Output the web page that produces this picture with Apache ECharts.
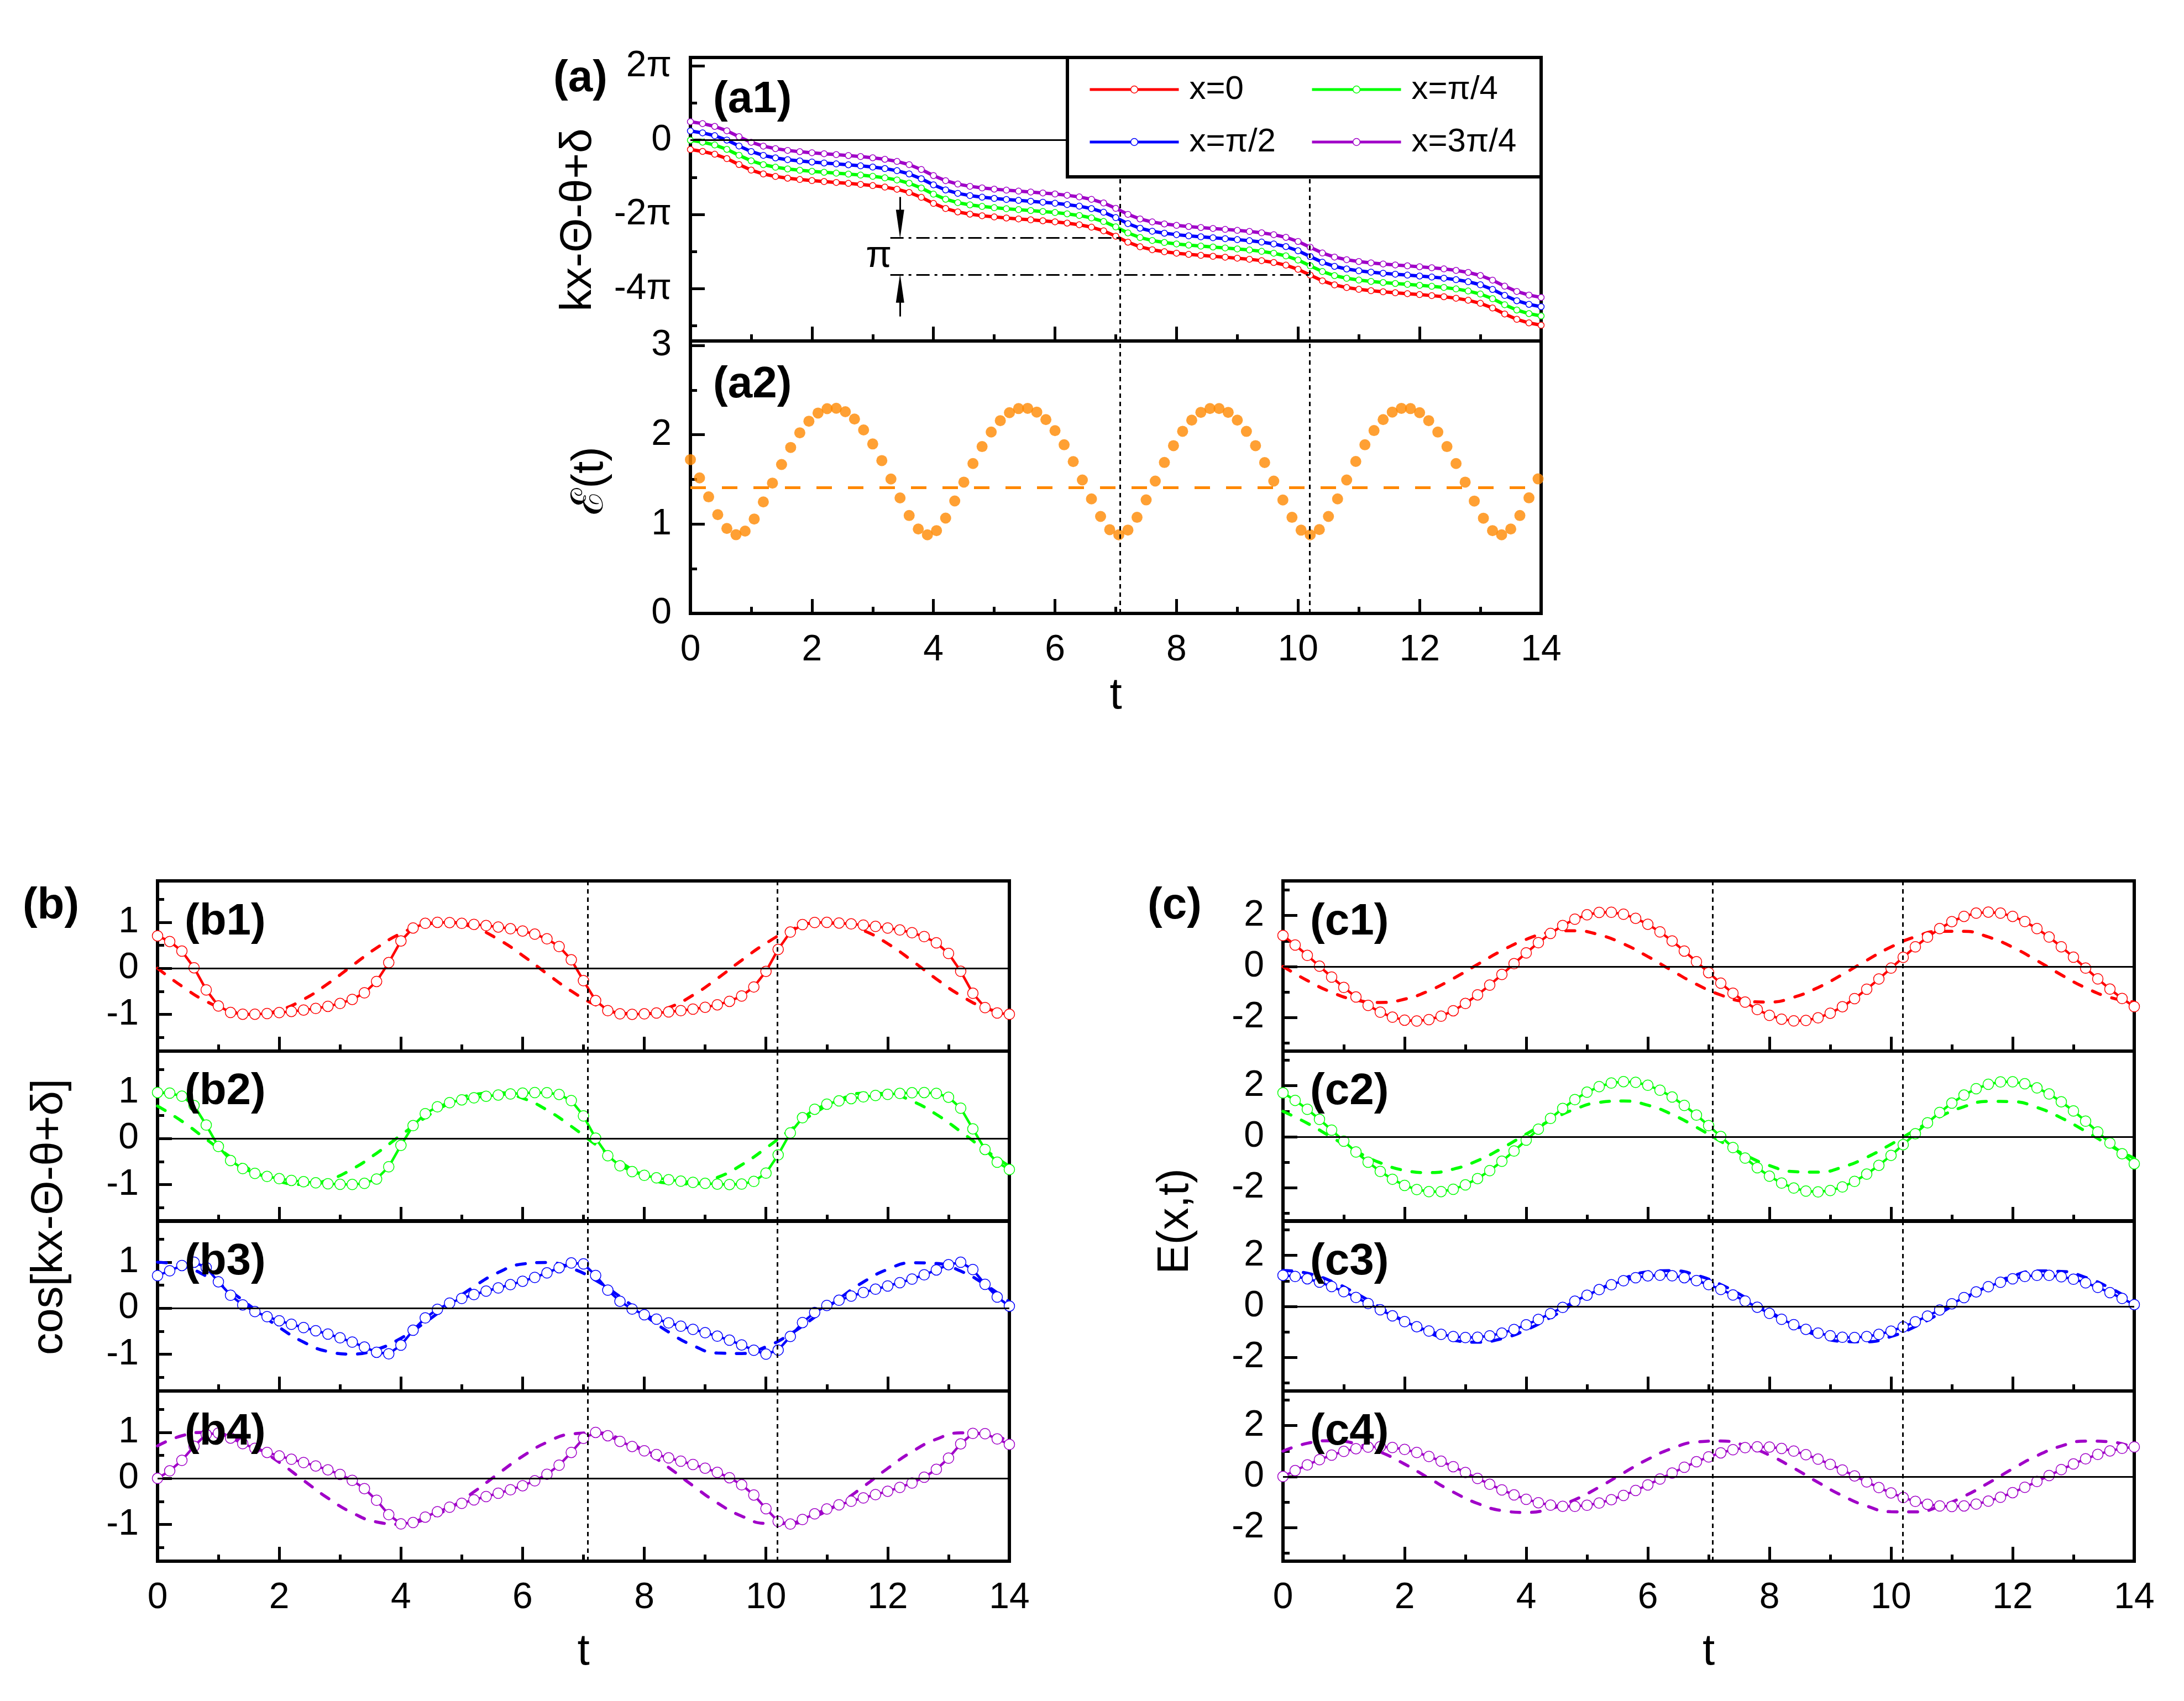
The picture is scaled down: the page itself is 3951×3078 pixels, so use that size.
<!DOCTYPE html>
<html>
<head>
<meta charset="utf-8">
<title>phase, envelope and field</title>
<script src="https://cdn.jsdelivr.net/npm/echarts@6.0.0/dist/echarts.min.js"></script>
<style>
html, body { margin: 0; padding: 0; background: #fff; }
#chart { width: 3951px; height: 3078px; }
</style>
</head>
<body>
<div id="chart"></div>
<script>
var FONT = 'Liberation Sans, Arial, Helvetica, sans-serif';
var colors = ['#ff0000', '#00ff00', '#0000ff', '#a000c8'];
var orange = '#ff8800';
var names = ['x=0', 'x=π/4', 'x=π/2', 'x=3π/4'];

// sample times
var tPts = [0, 0.2, 0.4, 0.6, 0.8, 1, 1.2, 1.4, 1.6, 1.8, 2, 2.2, 2.4, 2.6, 2.8, 3, 3.2, 3.4, 3.6, 3.8,
  4, 4.2, 4.4, 4.6, 4.8, 5, 5.2, 5.4, 5.6, 5.8, 6, 6.2, 6.4, 6.6, 6.8, 7, 7.2, 7.4, 7.6, 7.8,
  8, 8.2, 8.4, 8.6, 8.8, 9, 9.2, 9.4, 9.6, 9.8, 10, 10.2, 10.4, 10.6, 10.8, 11, 11.2, 11.4, 11.6, 11.8,
  12, 12.2, 12.4, 12.6, 12.8, 13, 13.2, 13.4, 13.6, 13.8, 14];
var tDash = [0, 0.4, 0.8, 1.2, 1.6, 2, 2.4, 2.8, 3.2, 3.6, 4, 4.4, 4.8, 5.2, 5.6, 6, 6.4, 6.8, 7.2, 7.6,
  8, 8.4, 8.8, 9.2, 9.6, 10, 10.4, 10.8, 11.2, 11.6, 12, 12.4, 12.8, 13.2, 13.6, 14];
var tEps = [0, 0.15, 0.3, 0.45, 0.6, 0.75, 0.9, 1.05, 1.2, 1.35, 1.5, 1.65, 1.8, 1.95, 2.1, 2.25, 2.4, 2.55, 2.7, 2.85,
  3, 3.15, 3.3, 3.45, 3.6, 3.75, 3.9, 4.05, 4.2, 4.35, 4.5, 4.65, 4.8, 4.95, 5.1, 5.25, 5.4, 5.55, 5.7, 5.85,
  6, 6.15, 6.3, 6.45, 6.6, 6.75, 6.9, 7.05, 7.2, 7.35, 7.5, 7.65, 7.8, 7.95, 8.1, 8.25, 8.4, 8.55, 8.7, 8.85,
  9, 9.15, 9.3, 9.45, 9.6, 9.75, 9.9, 10.05, 10.2, 10.35, 10.5, 10.65, 10.8, 10.95, 11.1, 11.25, 11.4, 11.55, 11.7, 11.85,
  12, 12.15, 12.3, 12.45, 12.6, 12.75, 12.9, 13.05, 13.2, 13.35, 13.5, 13.65, 13.8, 13.95];

// dotted guides at the minima of the envelope
var tMin = [7.07, 10.19];

// (a1) kx-Θ-θ+δ, in units of π
var phase0 = [-0.250, -0.302, -0.378, -0.496, -0.655, -0.805, -0.909, -0.977, -1.024, -1.059,
  -1.088, -1.114, -1.138, -1.163, -1.190, -1.223, -1.264, -1.321, -1.408, -1.539,
  -1.703, -1.840, -1.932, -1.992, -2.035, -2.068, -2.096, -2.121, -2.145, -2.171,
  -2.199, -2.234, -2.278, -2.343, -2.441, -2.586, -2.748, -2.872, -2.952, -3.006,
  -3.045, -3.077, -3.103, -3.128, -3.153, -3.179, -3.208, -3.245, -3.295, -3.367,
  -3.479, -3.635, -3.789, -3.899, -3.970, -4.019, -4.055, -4.085, -4.111, -4.135,
  -4.160, -4.187, -4.218, -4.258, -4.313, -4.395, -4.521, -4.683, -4.826, -4.923, -4.986];
var phase1 = [0.000, -0.052, -0.128, -0.246, -0.405, -0.555, -0.659, -0.727, -0.774, -0.809,
  -0.838, -0.864, -0.888, -0.913, -0.940, -0.973, -1.014, -1.071, -1.158, -1.289,
  -1.453, -1.590, -1.682, -1.742, -1.785, -1.818, -1.846, -1.871, -1.895, -1.921,
  -1.949, -1.984, -2.028, -2.093, -2.191, -2.336, -2.498, -2.622, -2.702, -2.756,
  -2.795, -2.827, -2.853, -2.878, -2.903, -2.929, -2.958, -2.995, -3.045, -3.117,
  -3.229, -3.385, -3.539, -3.649, -3.720, -3.769, -3.805, -3.835, -3.861, -3.885,
  -3.910, -3.937, -3.968, -4.008, -4.063, -4.145, -4.271, -4.433, -4.576, -4.673, -4.736];
var phase2 = [0.250, 0.198, 0.122, 0.004, -0.155, -0.305, -0.409, -0.477, -0.524, -0.559,
  -0.588, -0.614, -0.638, -0.663, -0.690, -0.723, -0.764, -0.821, -0.908, -1.039,
  -1.203, -1.340, -1.432, -1.492, -1.535, -1.568, -1.596, -1.621, -1.645, -1.671,
  -1.699, -1.734, -1.778, -1.843, -1.941, -2.086, -2.248, -2.372, -2.452, -2.506,
  -2.545, -2.577, -2.603, -2.628, -2.653, -2.679, -2.708, -2.745, -2.795, -2.867,
  -2.979, -3.135, -3.289, -3.399, -3.470, -3.519, -3.555, -3.585, -3.611, -3.635,
  -3.660, -3.687, -3.718, -3.758, -3.813, -3.895, -4.021, -4.183, -4.326, -4.423, -4.486];
var phase3 = [0.500, 0.448, 0.372, 0.254, 0.095, -0.055, -0.159, -0.227, -0.274, -0.309,
  -0.338, -0.364, -0.388, -0.413, -0.440, -0.473, -0.514, -0.571, -0.658, -0.789,
  -0.953, -1.090, -1.182, -1.242, -1.285, -1.318, -1.346, -1.371, -1.395, -1.421,
  -1.449, -1.484, -1.528, -1.593, -1.691, -1.836, -1.998, -2.122, -2.202, -2.256,
  -2.295, -2.327, -2.353, -2.378, -2.403, -2.429, -2.458, -2.495, -2.545, -2.617,
  -2.729, -2.885, -3.039, -3.149, -3.220, -3.269, -3.305, -3.335, -3.361, -3.385,
  -3.410, -3.437, -3.468, -3.508, -3.563, -3.645, -3.771, -3.933, -4.076, -4.173, -4.236];

// (a2) envelope
var eps = [1.722, 1.517, 1.305, 1.106, 0.951, 0.881, 0.922, 1.057, 1.248, 1.459,
  1.667, 1.858, 2.022, 2.152, 2.243, 2.292, 2.297, 2.258, 2.176, 2.054,
  1.897, 1.711, 1.505, 1.293, 1.096, 0.945, 0.880, 0.927, 1.067, 1.259,
  1.470, 1.678, 1.868, 2.031, 2.158, 2.247, 2.293, 2.296, 2.254, 2.170,
  2.046, 1.888, 1.700, 1.494, 1.282, 1.086, 0.938, 0.880, 0.933, 1.076,
  1.271, 1.482, 1.690, 1.878, 2.039, 2.164, 2.251, 2.294, 2.294, 2.251,
  2.164, 2.038, 1.878, 1.689, 1.482, 1.270, 1.076, 0.932, 0.880, 0.939,
  1.086, 1.282, 1.494, 1.701, 1.888, 2.047, 2.170, 2.254, 2.296, 2.293,
  2.247, 2.158, 2.030, 1.868, 1.678, 1.470, 1.258, 1.066, 0.927, 0.880,
  0.945, 1.096, 1.294, 1.506];
var epsMean = 1.41;

// (b) cos[kx-Θ-θ+δ], circles
var cos0 = [0.706, 0.583, 0.373, 0.012, -0.469, -0.819, -0.960, -0.997, -0.997, -0.983,
  -0.962, -0.937, -0.907, -0.872, -0.826, -0.765, -0.676, -0.533, -0.285, 0.124,
  0.595, 0.877, 0.977, 1.000, 0.994, 0.977, 0.955, 0.929, 0.898, 0.860,
  0.811, 0.743, 0.641, 0.474, 0.184, -0.268, -0.702, -0.920, -0.989, -1.000,
  -0.990, -0.971, -0.948, -0.920, -0.887, -0.847, -0.793, -0.718, -0.601, -0.405,
  -0.066, 0.411, 0.788, 0.950, 0.996, 0.998, 0.985, 0.965, 0.940, 0.911,
  0.876, 0.833, 0.774, 0.689, 0.555, 0.324, -0.065, -0.543, -0.854, -0.971, -0.999];
var cos1 = [1.000, 0.987, 0.920, 0.716, 0.293, -0.173, -0.480, -0.654, -0.758, -0.825,
  -0.873, -0.910, -0.939, -0.963, -0.983, -0.996, -0.999, -0.975, -0.880, -0.614,
  -0.148, 0.280, 0.541, 0.690, 0.780, 0.841, 0.885, 0.919, 0.946, 0.969,
  0.987, 0.999, 0.996, 0.958, 0.825, 0.492, 0.007, -0.373, -0.593, -0.720,
  -0.800, -0.855, -0.896, -0.927, -0.953, -0.975, -0.991, -1.000, -0.990, -0.933,
  -0.752, -0.355, 0.122, 0.451, 0.637, 0.747, 0.818, 0.868, 0.906, 0.936,
  0.960, 0.980, 0.995, 1.000, 0.981, 0.898, 0.660, 0.210, -0.237, -0.516, -0.675];
var cos2 = [0.708, 0.813, 0.928, 1.000, 0.883, 0.574, 0.281, 0.072, -0.074, -0.184,
  -0.273, -0.350, -0.421, -0.490, -0.563, -0.644, -0.737, -0.846, -0.958, -0.992,
  -0.804, -0.480, -0.212, -0.024, 0.110, 0.212, 0.296, 0.371, 0.441, 0.511,
  0.586, 0.669, 0.767, 0.880, 0.983, 0.963, 0.712, 0.393, 0.150, -0.019,
  -0.142, -0.238, -0.319, -0.391, -0.461, -0.532, -0.609, -0.696, -0.799, -0.914,
  -0.998, -0.912, -0.615, -0.312, -0.094, 0.059, 0.172, 0.263, 0.341, 0.412,
  0.482, 0.554, 0.633, 0.725, 0.832, 0.946, 0.998, 0.840, 0.519, 0.241, 0.045];
var cos3 = [0.001, 0.163, 0.393, 0.699, 0.956, 0.985, 0.877, 0.756, 0.653, 0.565,
  0.487, 0.415, 0.344, 0.270, 0.186, 0.086, -0.043, -0.222, -0.476, -0.789,
  -0.989, -0.960, -0.841, -0.724, -0.626, -0.541, -0.466, -0.395, -0.323, -0.247,
  -0.159, -0.052, 0.089, 0.287, 0.565, 0.871, 1.000, 0.928, 0.805, 0.694,
  0.600, 0.519, 0.445, 0.374, 0.302, 0.222, 0.130, 0.015, -0.140, -0.360,
  -0.659, -0.935, -0.993, -0.893, -0.771, -0.665, -0.575, -0.497, -0.424, -0.353,
  -0.279, -0.197, -0.100, 0.025, 0.196, 0.440, 0.751, 0.978, 0.972, 0.857, 0.738];

// (b) dashed reference curves
var bDash0 = [0, -0.389, -0.717, -0.932, -1.000, -0.909, -0.676, -0.335, 0.058, 0.443,
  0.757, 0.952, 0.996, 0.884, 0.631, 0.279, -0.117, -0.494, -0.794, -0.968,
  -0.989, -0.855, -0.585, -0.223, 0.174, 0.544, 0.828, 0.981, 0.979, 0.823,
  0.537, 0.166, -0.232, -0.592, -0.859, -0.991];
var bDash1 = [0.707, 0.376, -0.015, -0.403, -0.727, -0.937, -0.999, -0.903, -0.665, -0.321,
  0.073, 0.456, 0.766, 0.956, 0.995, 0.877, 0.620, 0.265, -0.131, -0.507,
  -0.802, -0.971, -0.987, -0.847, -0.573, -0.209, 0.189, 0.556, 0.836, 0.984,
  0.976, 0.814, 0.524, 0.151, -0.246, -0.604];
var bDash2 = [1, 0.921, 0.697, 0.362, -0.029, -0.416, -0.737, -0.942, -0.998, -0.897,
  -0.654, -0.307, 0.088, 0.469, 0.776, 0.960, 0.993, 0.869, 0.608, 0.251,
  -0.146, -0.519, -0.811, -0.975, -0.985, -0.839, -0.561, -0.194, 0.203, 0.568,
  0.844, 0.986, 0.973, 0.806, 0.512, 0.137];
var bDash3 = [0.707, 0.927, 1.000, 0.915, 0.686, 0.349, -0.044, -0.429, -0.747, -0.947,
  -0.997, -0.890, -0.643, -0.293, 0.102, 0.481, 0.785, 0.964, 0.991, 0.862,
  0.597, 0.237, -0.160, -0.532, -0.820, -0.978, -0.982, -0.831, -0.549, -0.180,
  0.217, 0.580, 0.852, 0.989, 0.969, 0.797];

// (c) E(x,t), circles
var field0 = [1.216, 0.843, 0.436, 0.012, -0.413, -0.822, -1.197, -1.525, -1.792, -1.988,
  -2.104, -2.137, -2.084, -1.948, -1.735, -1.452, -1.111, -0.727, -0.313, 0.113,
  0.535, 0.936, 1.299, 1.610, 1.857, 2.030, 2.123, 2.130, 2.053, 1.893,
  1.659, 1.358, 1.003, 0.608, 0.189, -0.238, -0.655, -1.046, -1.396, -1.689,
  -1.916, -2.066, -2.133, -2.116, -2.014, -1.832, -1.577, -1.259, -0.891, -0.487,
  -0.064, 0.361, 0.773, 1.153, 1.488, 1.762, 1.968, 2.094, 2.137, 2.095,
  1.969, 1.765, 1.490, 1.156, 0.776, 0.365, -0.060, -0.484, -0.888, -1.255, -1.573];
var field1 = [1.722, 1.427, 1.076, 0.681, 0.259, -0.174, -0.599, -1.000, -1.362, -1.669,
  -1.910, -2.074, -2.156, -2.152, -2.062, -1.890, -1.643, -1.330, -0.964, -0.560,
  -0.133, 0.299, 0.719, 1.111, 1.458, 1.747, 1.966, 2.107, 2.164, 2.135,
  2.020, 1.825, 1.558, 1.228, 0.849, 0.437, 0.007, -0.424, -0.837, -1.217,
  -1.549, -1.818, -2.015, -2.132, -2.164, -2.110, -1.971, -1.754, -1.467, -1.122,
  -0.731, -0.312, 0.120, 0.547, 0.952, 1.319, 1.634, 1.884, 2.058, 2.151,
  2.157, 2.078, 1.916, 1.677, 1.372, 1.012, 0.612, 0.187, -0.246, -0.667, -1.062];
var field2 = [1.220, 1.176, 1.085, 0.951, 0.779, 0.576, 0.351, 0.111, -0.134, -0.373,
  -0.597, -0.797, -0.966, -1.096, -1.182, -1.221, -1.212, -1.154, -1.050, -0.905,
  -0.723, -0.512, -0.281, -0.039, 0.205, 0.440, 0.658, 0.850, 1.008, 1.126,
  1.199, 1.224, 1.200, 1.128, 1.012, 0.855, 0.664, 0.447, 0.211, -0.032,
  -0.275, -0.506, -0.717, -0.900, -1.047, -1.152, -1.211, -1.222, -1.184, -1.099,
  -0.970, -0.803, -0.603, -0.379, -0.141, 0.103, 0.344, 0.570, 0.774, 0.947,
  1.082, 1.174, 1.219, 1.216, 1.164, 1.066, 0.925, 0.747, 0.540, 0.311, 0.071];
var field3 = [0.002, 0.235, 0.459, 0.665, 0.843, 0.989, 1.095, 1.157, 1.173, 1.142,
  1.066, 0.947, 0.791, 0.603, 0.391, 0.163, -0.071, -0.302, -0.521, -0.720,
  -0.890, -1.024, -1.118, -1.166, -1.169, -1.125, -1.036, -0.905, -0.739, -0.543,
  -0.326, -0.095, 0.139, 0.368, 0.582, 0.773, 0.933, 1.056, 1.136, 1.172,
  1.161, 1.103, 1.002, 0.860, 0.685, 0.482, 0.259, 0.027, -0.207, -0.432,
  -0.640, -0.823, -0.973, -1.084, -1.152, -1.173, -1.149, -1.078, -0.964, -0.812,
  -0.628, -0.418, -0.192, 0.042, 0.274, 0.495, 0.697, 0.870, 1.009, 1.108, 1.163];

// (c) dashed reference curves
var cDash0 = [0, -0.549, -1.011, -1.314, -1.410, -1.282, -0.953, -0.472, 0.082, 0.625,
  1.067, 1.342, 1.404, 1.246, 0.890, 0.393, -0.165, -0.697, -1.119, -1.365,
  -1.394, -1.205, -0.825, -0.314, 0.245, 0.767, 1.167, 1.383, 1.381, 1.160,
  0.757, 0.234, -0.327, -0.835, -1.211, -1.397];
var cDash1 = [0.997, 0.530, -0.021, -0.568, -1.025, -1.321, -1.409, -1.273, -0.938, -0.453,
  0.103, 0.643, 1.080, 1.348, 1.403, 1.237, 0.874, 0.374, -0.185, -0.715,
  -1.131, -1.369, -1.392, -1.194, -0.808, -0.295, 0.266, 0.784, 1.179, 1.387,
  1.376, 1.148, 0.739, 0.213, -0.347, -0.852];
var cDash2 = [1.410, 1.299, 0.983, 0.510, -0.041, -0.587, -1.039, -1.328, -1.407, -1.265,
  -0.922, -0.433, 0.124, 0.661, 1.094, 1.354, 1.400, 1.225, 0.857, 0.354,
  -0.206, -0.732, -1.144, -1.375, -1.389, -1.183, -0.791, -0.274, 0.286, 0.801,
  1.190, 1.390, 1.372, 1.136, 0.722, 0.193];
var cDash3 = [0.997, 1.307, 1.410, 1.290, 0.967, 0.492, -0.062, -0.605, -1.053, -1.335,
  -1.406, -1.255, -0.907, -0.413, 0.144, 0.678, 1.107, 1.359, 1.397, 1.215,
  0.842, 0.334, -0.226, -0.750, -1.156, -1.379, -1.385, -1.172, -0.774, -0.254,
  0.306, 0.818, 1.201, 1.394, 1.366, 1.124];

// axis ticks
var ticksA1 = [-4, -2, 0, 2], minorA1 = [-5, -3, -1, 1];
var ticksA2 = [0, 1, 2, 3], minorA2 = [0.5, 1.5, 2.5];
var ticksB = [-1, 0, 1], minorB = [-1.5, -0.5, 0.5, 1.5];
var ticksC = [-2, 0, 2], minorC = [-3, -1, 1, 3];

// the π bracket in (a1), units of π
var bracketT = 3.45, bracketStart = 3.29;
var bracketY = [-2.63, -3.62];
var bracketEnd = [7.07, 10.19];
var arrowTail = [-1.53, -4.75];
var arrowHalf = 0.37;

var phases = [phase0, phase1, phase2, phase3];
var cosData = [cos0, cos1, cos2, cos3];
var bDash = [bDash0, bDash1, bDash2, bDash3];
var fieldData = [field0, field1, field2, field3];
var cDash = [cDash0, cDash1, cDash2, cDash3];

function zip(xs, ys) {
  return xs.map(function (x, i) { return [x, ys[i]]; });
}

var black = '#000';
var grids = [], xAxes = [], yAxes = [], series = [];

function addPanel(box, yMin, yMax, major, minor, fmt, showX, nameGap) {
  var g = grids.length;
  grids.push({
    left: box[0], top: box[1], width: box[2], height: box[3],
    show: true, borderColor: black, borderWidth: 6, backgroundColor: 'transparent'
  });
  xAxes.push({
    gridIndex: g, type: 'value', min: 0, max: 14, interval: 2, position: 'bottom',
    axisLine: { show: false, onZero: false },
    axisTick: { show: true, inside: true, length: 26, lineStyle: { color: black, width: 5 } },
    minorTick: { show: true, splitNumber: 2, length: 12, lineStyle: { color: black, width: 5 } },
    splitLine: { show: false }, minorSplitLine: { show: false },
    axisLabel: { show: showX, fontSize: 66, fontFamily: FONT, color: black, margin: 34 },
    name: showX ? 't' : '', nameLocation: 'middle', nameGap: nameGap,
    nameTextStyle: { fontSize: 80, fontFamily: FONT, color: black }
  });
  yAxes.push({
    gridIndex: g, type: 'value', min: yMin, max: yMax, position: 'left', offset: 0,
    axisLine: { show: false, onZero: false },
    axisTick: { show: true, inside: true, length: 26, customValues: major, lineStyle: { color: black, width: 5 } },
    axisLabel: { customValues: major, formatter: fmt, fontSize: 66, fontFamily: FONT, color: black, margin: 34 },
    splitLine: { show: false }
  });
  yAxes.push({
    gridIndex: g, type: 'value', min: yMin, max: yMax, position: 'left', offset: 0,
    axisLine: { show: false, onZero: false },
    axisTick: { show: true, inside: true, length: 12, customValues: minor, lineStyle: { color: black, width: 5 } },
    axisLabel: { show: false },
    splitLine: { show: false }
  });
  return g;
}

var dotted = { type: [8, 7], width: 3, color: black };
var zeroLine = { type: 'solid', width: 3, color: black };
var dashDot = { type: [24, 9, 5, 9], width: 3, color: black };

function guides(withZero) {
  var d = tMin.map(function (t) { return { xAxis: t, lineStyle: dotted }; });
  if (withZero) d.push({ yAxis: 0, lineStyle: zeroLine });
  return d;
}

function markLines(data) {
  return {
    silent: true, symbol: 'none', animation: false,
    label: { show: false }, emphasis: { disabled: true }, data: data
  };
}

// panel (a1)
var piFmt = function (v) { return v === 0 ? '0' : v + 'π'; };
var gA1 = addPanel([1249, 104, 1539, 513], -5.41, 2.23, ticksA1, minorA1, piFmt, false, 0);
var a1Marks = guides(true);
bracketY.forEach(function (y, i) {
  a1Marks.push([{ coord: [bracketStart, y], lineStyle: dashDot }, { coord: [bracketEnd[i], y], lineStyle: dashDot }]);
});
// arrows: the triangle is centred on the end point, so move it back by half its length
a1Marks.push([
  { coord: [bracketT, arrowTail[0]], lineStyle: { type: 'solid', width: 3, color: black } },
  { coord: [bracketT, bracketY[0] + arrowHalf], symbol: 'triangle', symbolSize: [15, 52] }
]);
a1Marks.push([
  { coord: [bracketT, arrowTail[1]], lineStyle: { type: 'solid', width: 3, color: black } },
  { coord: [bracketT, bracketY[1] - arrowHalf], symbol: 'triangle', symbolSize: [15, 52] }
]);

phases.forEach(function (p, i) {
  var s = {
    name: names[i], type: 'line', xAxisIndex: gA1, yAxisIndex: gA1 * 2,
    data: zip(tPts, p), symbol: 'circle', symbolSize: 11, showAllSymbol: true,
    itemStyle: { color: '#fff', borderColor: colors[i], borderWidth: 1.5 },
    lineStyle: { color: colors[i], width: 6 }, z: 3
  };
  if (i === 0) {
    s.markLine = markLines(a1Marks);
    s.markLine.itemStyle = { color: black };
    s.markPoint = {
      silent: true, animation: false, symbol: 'circle', symbolSize: 1,
      itemStyle: { color: 'rgba(0,0,0,0)' },
      label: { show: true, position: 'inside', formatter: 'π', fontSize: 68, fontFamily: FONT, color: black },
      data: [{ coord: [3.1, -3.13] }]
    };
  }
  series.push(s);
});

// panel (a2)
var gA2 = addPanel([1249, 617, 1539, 493], 0, 3.05, ticksA2, minorA2, null, true, 110);
var a2Marks = guides(false);
a2Marks.push({ yAxis: epsMean, lineStyle: { type: [28, 29], width: 5, color: orange } });
series.push({
  name: 'eps', type: 'scatter', xAxisIndex: gA2, yAxisIndex: gA2 * 2,
  data: zip(tEps, eps), symbol: 'circle', symbolSize: 20,
  itemStyle: { color: orange }, markLine: markLines(a2Marks), z: 3
});

// panels (b1)-(b4) and (c1)-(c4)
var rowTop = [1594, 1902, 2209, 2517];
function addColumn(left, width, yMin, yMax, major, minor, circ, dash, tag) {
  rowTop.forEach(function (top, i) {
    var last = i === rowTop.length - 1;
    var g = addPanel([left, top, width, 308], yMin, yMax, major, minor, null, last, 125);
    series.push({
      name: tag + i + '-dash', type: 'line', xAxisIndex: g, yAxisIndex: g * 2,
      data: zip(tDash, dash[i]), smooth: true, symbol: 'none',
      lineStyle: { color: colors[i], width: 5.5, type: [16, 21], cap: 'round' }, z: 2
    });
    series.push({
      name: tag + i, type: 'line', xAxisIndex: g, yAxisIndex: g * 2,
      data: zip(tPts, circ[i]), symbol: 'circle', symbolSize: 19, showAllSymbol: true,
      itemStyle: { color: '#fff', borderColor: colors[i], borderWidth: 1.5 },
      lineStyle: { color: colors[i], width: 4.5 }, z: 3,
      markLine: markLines(guides(true))
    });
  });
}
addColumn(285, 1541, -1.8, 1.9, ticksB, minorB, cosData, bDash, 'b');
addColumn(2321, 1540, -3.32, 3.36, ticksC, minorC, fieldData, cDash, 'c');

// texts
var graphic = [{
  type: 'rect', z: 10,
  shape: { x: 1931, y: 104, width: 857, height: 216 },
  style: { fill: '#fff', stroke: black, lineWidth: 6 }
}];
function addText(text, x, y, align, bold, size, rotate) {
  graphic.push({
    type: 'text', x: x, y: y, z: 30, rotation: rotate ? Math.PI / 2 : 0,
    style: {
      text: text, align: align, verticalAlign: 'middle', fill: black,
      fontSize: size, fontFamily: FONT, fontWeight: bold ? 'bold' : 'normal'
    }
  });
}
addText('(a)', 1050, 143, 'center', true, 80);
addText('(b)', 92, 1640, 'center', true, 80);
addText('(c)', 2125, 1640, 'center', true, 80);
addText('(a1)', 1290, 181, 'left', true, 80);
addText('(a2)', 1290, 697, 'left', true, 80);
var labelY = [1669, 1976, 2284, 2592];
labelY.forEach(function (y, i) {
  addText('(b' + (i + 1) + ')', 334, y, 'left', true, 80);
  addText('(c' + (i + 1) + ')', 2370, y, 'left', true, 80);
});
addText('kx-Θ-θ+δ', 1047, 398, 'center', false, 80, true);
addText('ℰ(t)', 1068, 870, 'center', false, 80, true);
addText('cos[kx-Θ-θ+δ]', 90, 2202, 'center', false, 80, true);
addText('E(x,t)', 2127, 2210, 'center', false, 80, true);

var legendText = { fontSize: 60, lineHeight: 60, fontFamily: FONT, color: black, padding: [0, 0, 0, 14] };
var legendBase = {
  orient: 'vertical', top: 132, padding: 0, itemWidth: 161, itemHeight: 16, itemGap: 35,
  selectedMode: false, z: 20, textStyle: legendText,
  lineStyle: { width: 5 }, itemStyle: { borderWidth: 1.5 }
};
var option = {
  animation: false,
  backgroundColor: '#fff',
  grid: grids,
  xAxis: xAxes,
  yAxis: yAxes,
  legend: [
    Object.assign({ data: [names[0], names[2]], left: 1969 }, legendBase),
    Object.assign({ data: [names[1], names[3]], left: 2371 }, legendBase)
  ],
  graphic: graphic,
  series: series
};

var chart = echarts.init(document.getElementById('chart'));
chart.setOption(option);
</script>
</body>
</html>
